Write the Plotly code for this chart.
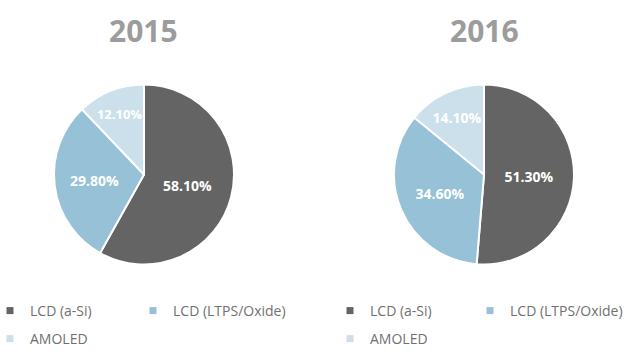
import plotly.graph_objects as go

categories = ["LCD (a-Si)", "LCD (LTPS/Oxide)", "AMOLED"]
years = ["2015", "2016"]
share_2015 = [58.1, 29.8, 12.1]
share_2016 = [51.3, 34.6, 14.1]
colors = ["#646464", "#97C1D6", "#CCE0EB"]

FONT = "Open Sans"
W, H = 640, 360

fig = go.Figure()

pie_domains = [
    dict(x=[54 / W, 234 / W], y=[1 - 264.5 / H, 1 - 84.5 / H]),
    dict(x=[394 / W, 574 / W], y=[1 - 264.5 / H, 1 - 84.5 / H]),
]
for year, vals, dom in zip(years, [share_2015, share_2016], pie_domains):
    fig.add_trace(go.Pie(
        labels=categories, values=vals, name=year, sort=False,
        direction="clockwise", rotation=0, domain=dom,
        marker=dict(colors=colors, line=dict(color="white", width=2)),
        texttemplate="%{value:.2f}%", textposition="inside",
        insidetextorientation="horizontal",
        textfont=dict(family=FONT, size=14, color="white", weight="bold"),
        showlegend=False, hoverinfo="label+value",
    ))

# one legend per entry, so the entries can sit in two columns / two rows
legend_slots = [  # (legend id, category index, x px, row centre y px)
    ("legend", 0, -10, 311), ("legend2", 1, 133, 311), ("legend3", 2, -10, 339),
    ("legend4", 0, 330, 311), ("legend5", 1, 470, 311), ("legend6", 2, 330, 339),
]
leg_layout = {}
for lg, i, lx, ly in legend_slots:
    fig.add_trace(go.Scatter(
        x=[None], y=[None], mode="markers", name=categories[i],
        marker=dict(symbol="square", size=7, color=colors[i]),
        legend=lg, showlegend=True, hoverinfo="skip",
    ))
    leg_layout[lg] = dict(
        x=lx / W, y=1 - ly / H, xref="paper", yref="paper",
        orientation="h", xanchor="left", yanchor="middle",
        bgcolor="rgba(0,0,0,0)",
        font=dict(family=FONT, size=14, color="#707070"),
        itemclick=False, itemdoubleclick=False,
    )

annotations = []
for year, cx in zip(years, [143.5, 484]):
    annotations.append(dict(
        text=year, x=cx / W, y=1 - 30 / H, xref="paper", yref="paper",
        xanchor="center", yanchor="middle", showarrow=False,
        font=dict(family=FONT, size=30, color="#9C9C9C", weight="bold"),
    ))

fig.update_layout(
    width=W, height=H,
    margin=dict(l=0, r=0, t=0, b=0, autoexpand=False),
    paper_bgcolor="white", plot_bgcolor="white",
    xaxis=dict(visible=False), yaxis=dict(visible=False),
    annotations=annotations,
    **leg_layout,
)

fig.write_html("out.html", config={"displayModeBar": False},
               post_script="document.body.style.margin='0';")
